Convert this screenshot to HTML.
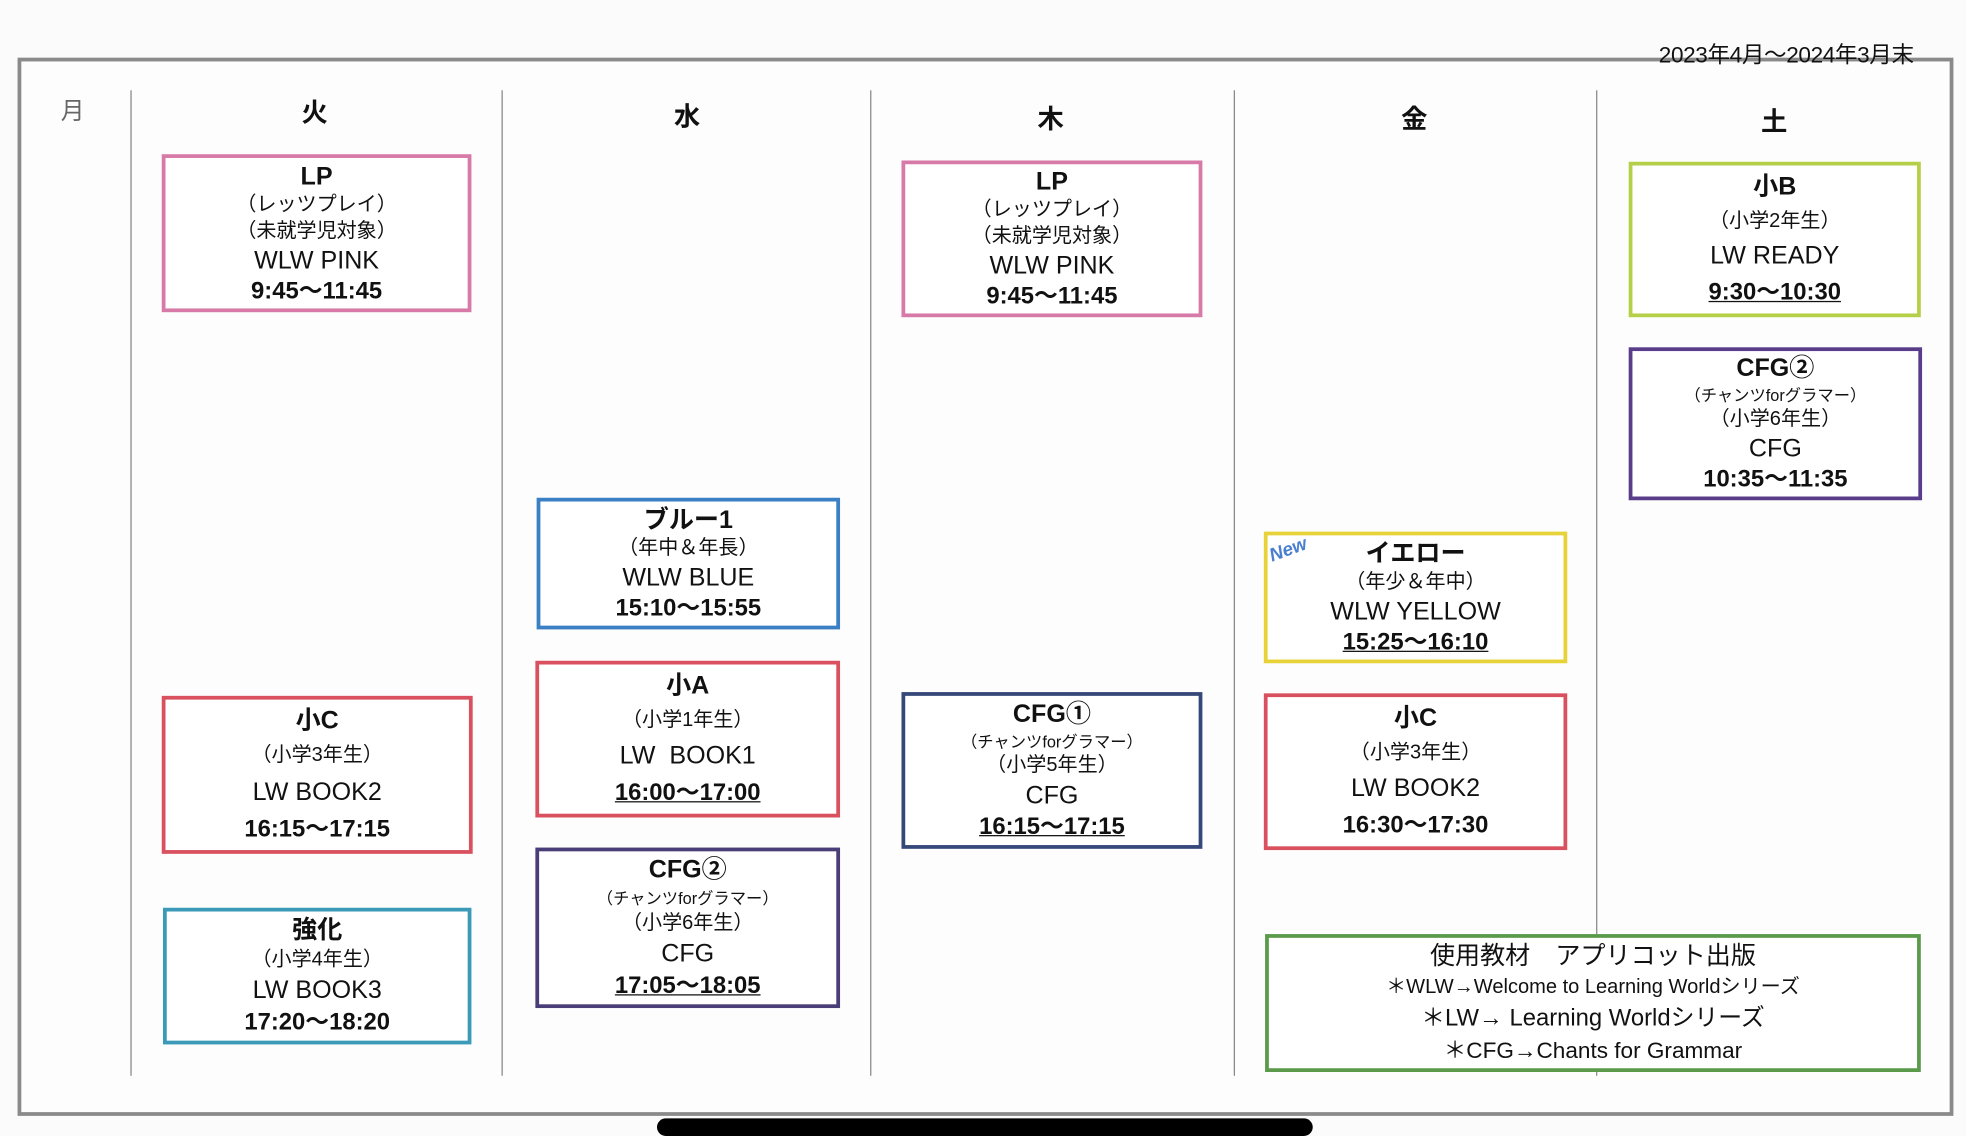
<!DOCTYPE html>
<html><head><meta charset="utf-8"><style>
html,body{margin:0;padding:0;background:#fbfbfb;overflow:hidden}
#w{position:absolute;left:0;top:0;width:1568px;height:901px;transform:scale(1.2538);transform-origin:0 0;font-family:"Liberation Sans","Noto Sans CJK JP",sans-serif;color:#111}
.a{position:absolute}
.frame{left:14px;top:46px;width:1538px;height:838px;border:3px solid #8a8a8a;background:#fdfdfd}
.vl{position:absolute;width:1.2px;background:#888;top:72px;height:786px}
.h{position:absolute;font-size:21px;font-weight:bold;transform:translateX(-50%);top:74px}
.b{position:absolute;border:3px solid;box-sizing:border-box;display:flex;flex-direction:column;justify-content:space-around;align-items:center;text-align:center;padding:2px 0;background:#fff}
.b div{line-height:1;white-space:nowrap}
.t{font-size:20px;font-weight:bold}
.p{font-size:16px}
.s{font-size:13px}
.m{font-size:20px}
.tm{font-size:19px;font-weight:bold;text-decoration:underline;text-decoration-thickness:1px}
</style></head><body><div id="w">
<div class="a frame"></div>
<div class="a" style="left:1323px;top:30px;font-size:18px;letter-spacing:-0.3px">2023年4月～2024年3月末</div>
<div class="vl" style="left:104px"></div><div class="vl" style="left:400px"></div><div class="vl" style="left:694px"></div><div class="vl" style="left:984px"></div><div class="vl" style="left:1273px"></div>
<div class="h" style="left:58px;font-weight:normal;color:#666;font-size:19px">月</div>
<div class="h" style="left:251px">火</div><div class="h" style="left:548px;top:77px">水</div><div class="h" style="left:838px;top:79px">木</div><div class="h" style="left:1128px;top:79px">金</div><div class="h" style="left:1415px;top:81px">土</div>

<div class="b" style="left:129px;top:123px;width:247px;height:126px;border-color:#d87aa8"><div class="t">LP</div><div class="p">（レッツプレイ）</div><div class="p">（未就学児対象）</div><div class="m">WLW PINK</div><div class="tm" style="text-decoration:none">9:45～11:45</div></div>
<div class="b" style="left:129px;top:555px;width:248px;height:126px;border-color:#d9505e"><div class="t">小C</div><div class="p">（小学3年生）</div><div class="m">LW BOOK2</div><div class="tm" style="text-decoration:none">16:15～17:15</div></div>
<div class="b" style="left:130px;top:724px;width:246px;height:109px;border-color:#3a9ab8"><div class="t">強化</div><div class="p">（小学4年生）</div><div class="m">LW BOOK3</div><div class="tm" style="text-decoration:none">17:20～18:20</div></div>

<div class="b" style="left:428px;top:397px;width:242px;height:105px;border-color:#3b7fc4"><div class="t">ブルー1</div><div class="p">（年中＆年長）</div><div class="m">WLW BLUE</div><div class="tm" style="text-decoration:none">15:10～15:55</div></div>
<div class="b" style="left:427px;top:527px;width:243px;height:125px;border-color:#d9505e"><div class="t">小A</div><div class="p">（小学1年生）</div><div class="m">LW&nbsp;&nbsp;BOOK1</div><div class="tm">16:00～17:00</div></div>
<div class="b" style="left:427px;top:676px;width:243px;height:128px;border-color:#4b3d78"><div class="t">CFG②</div><div class="s">（チャンツforグラマー）</div><div class="p">（小学6年生）</div><div class="m">CFG</div><div class="tm">17:05～18:05</div></div>

<div class="b" style="left:719px;top:128px;width:240px;height:125px;border-color:#d87aa8"><div class="t">LP</div><div class="p">（レッツプレイ）</div><div class="p">（未就学児対象）</div><div class="m">WLW PINK</div><div class="tm" style="text-decoration:none">9:45～11:45</div></div>
<div class="b" style="left:719px;top:552px;width:240px;height:125px;border-color:#36477a"><div class="t">CFG①</div><div class="s">（チャンツforグラマー）</div><div class="p">（小学5年生）</div><div class="m">CFG</div><div class="tm">16:15～17:15</div></div>

<div class="b" style="left:1008px;top:424px;width:242px;height:105px;border-color:#e8d23a"><div class="t">イエロー</div><div class="p">（年少＆年中）</div><div class="m">WLW YELLOW</div><div class="tm">15:25～16:10</div></div>
<div class="a" style="left:1012px;top:430px;font-size:15px;font-weight:bold;font-style:italic;color:#4a7fd0;transform:rotate(-20deg)">New</div>
<div class="b" style="left:1008px;top:553px;width:242px;height:125px;border-color:#d9505e"><div class="t">小C</div><div class="p">（小学3年生）</div><div class="m">LW BOOK2</div><div class="tm" style="text-decoration:none">16:30～17:30</div></div>

<div class="b" style="left:1299px;top:129px;width:233px;height:124px;border-color:#b5cf48"><div class="t">小B</div><div class="p">（小学2年生）</div><div class="m">LW READY</div><div class="tm">9:30～10:30</div></div>
<div class="b" style="left:1299px;top:277px;width:234px;height:122px;border-color:#5a3d8a"><div class="t">CFG②</div><div class="s">（チャンツforグラマー）</div><div class="p">（小学6年生）</div><div class="m">CFG</div><div class="tm" style="text-decoration:none">10:35～11:35</div></div>

<div class="b" style="left:1009px;top:745px;width:523px;height:110px;border-color:#5a9a4a"><div style="font-size:20px">使用教材　アプリコット出版</div><div style="font-size:16px">＊WLW→Welcome to Learning Worldシリーズ</div><div style="font-size:19px">＊LW→ Learning Worldシリーズ</div><div style="font-size:18px">＊CFG→Chants for Grammar</div></div>

<div class="a" style="left:524px;top:892px;width:523px;height:14px;border-radius:7px;background:#000"></div>
</div></body></html>
